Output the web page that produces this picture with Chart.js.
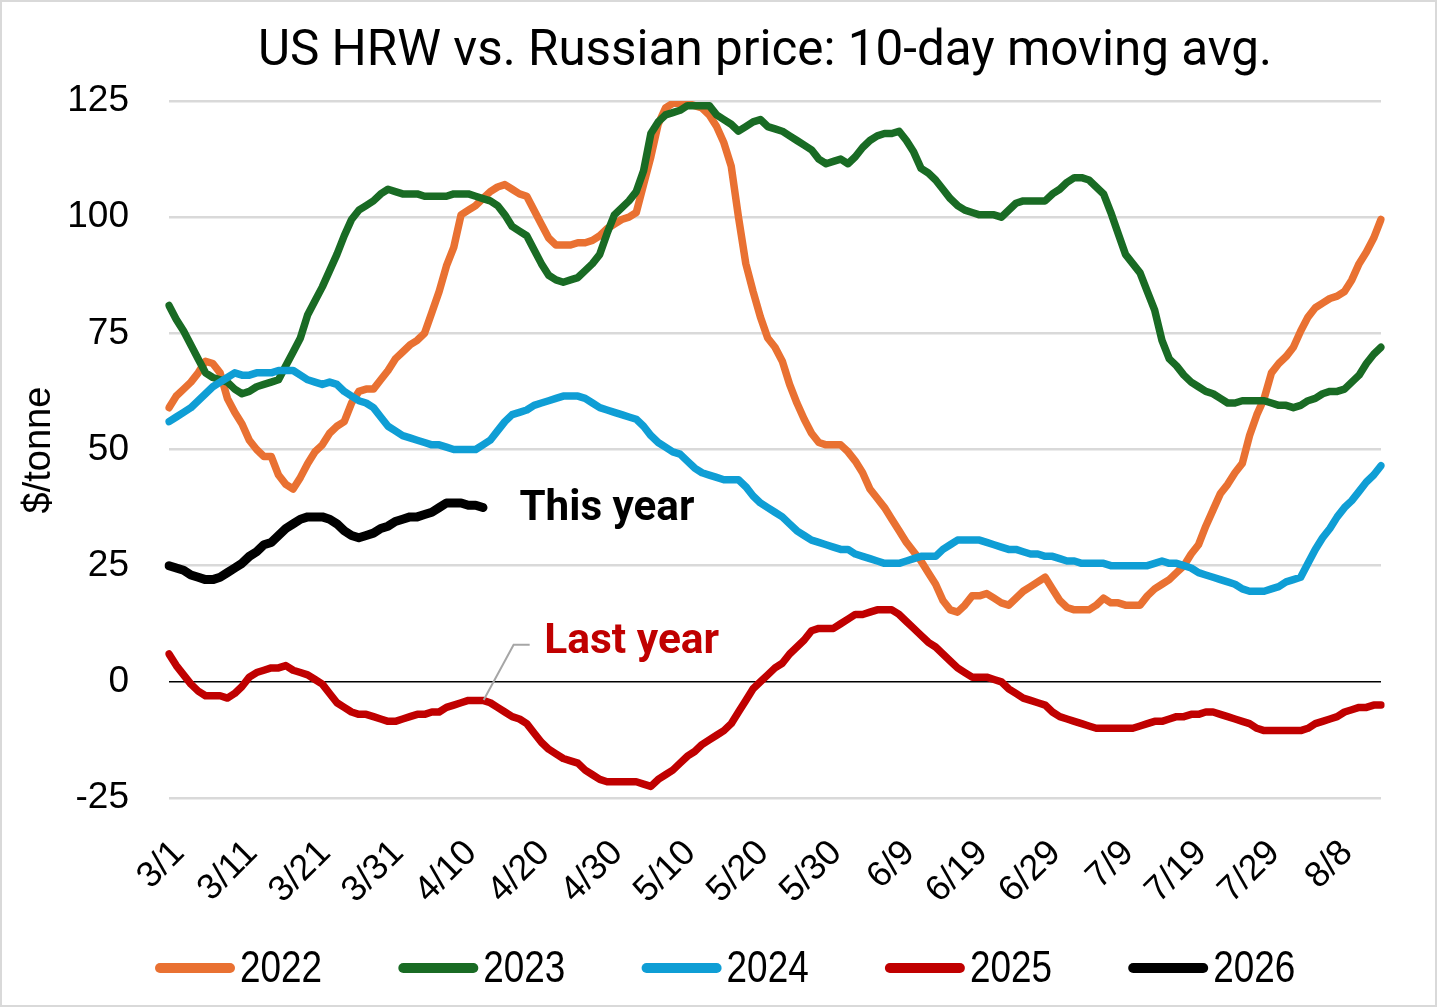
<!DOCTYPE html>
<html>
<head>
<meta charset="utf-8">
<script src="https://cdn.jsdelivr.net/npm/chart.js@4.4.1/dist/chart.umd.min.js"></script>
<style>
html,body{margin:0;padding:0;background:#fff;}
canvas{display:block;}
</style>
</head>
<body>
<canvas id="c" width="1437" height="1007"></canvas>
<script>
// ---------- data ----------
const titleText = 'US HRW vs. Russian price: 10-day moving avg.';
const yAxisTitle = '$/tonne';
const seriesNames = ['2022', '2023', '2024', '2025', '2026'];
const seriesColors = ['#E97132', '#196B24', '#0F9ED5', '#C00000', '#000000'];
const tickLabels = ['3/1','3/11','3/21','3/31','4/10','4/20','4/30','5/10','5/20','5/30','6/9','6/19','6/29','7/9','7/19','7/29','8/8'];
const firstDay = {month: 3, day: 1};
const dayCount = 167;
const yTicks = {min: -25, max: 125, step: 25};

const v2022 = [
  59, 61.5, 63, 64.5, 66.5, 69, 68.5, 66.5, 61, 58,
  55.5, 52, 50, 48.5, 48.5, 44.5, 42.5, 41.5, 44, 47,
  49.5, 51, 53.5, 55, 56, 60, 62.5, 63, 63, 65,
  67, 69.5, 71, 72.5, 73.5, 75, 79.5, 84, 89.5, 93.5,
  100.5, 101.5, 102.5, 104, 105.5, 106.5, 107, 106, 105, 104.5,
  101.5, 98.5, 95.5, 94, 94, 94, 94.5, 94.5, 95, 96,
  97.5, 98.5, 99.5, 100, 101, 107, 113, 120, 123.5, 124.5,
  124.5, 124.5, 124, 123.5, 122, 119.5, 116, 111, 100, 90,
  84, 78.5, 74, 72, 69, 64, 60, 56.5, 53.5, 51.5,
  51, 51, 51, 49.5, 47.5, 45, 41.5, 39.5, 37.5, 35,
  32.5, 30, 28, 26, 23.5, 21, 17.5, 15.5, 15, 16.5,
  18.5, 18.5, 19, 18, 17, 16.5, 18, 19.5, 20.5, 21.5,
  22.5, 20, 17.5, 16, 15.5, 15.5, 15.5, 16.5, 18, 17,
  17, 16.5, 16.5, 16.5, 18.5, 20, 21, 22, 23.5, 25,
  27.5, 29.5, 33.5, 37, 40.5, 42.5, 45, 47, 53, 57.5,
  61, 66.5, 68.5, 70, 72, 75.5, 78.5, 80.5, 81.5, 82.5,
  83, 84, 86.5, 90, 92.5, 95.5, 99.5
];
const v2023 = [
  81, 78, 75.5, 72.5, 69.5, 66.5, 65.5, 65, 64.5, 63,
  62, 62.5, 63.5, 64, 64.5, 65, 68, 71, 74, 79,
  82, 85, 88.5, 92, 96, 99.5, 101.5, 102.5, 103.5, 105,
  106, 105.5, 105, 105, 105, 104.5, 104.5, 104.5, 104.5, 105,
  105, 105, 104.5, 104, 103.5, 102.5, 100.5, 98, 97, 96,
  93, 90, 87.5, 86.5, 86, 86.5, 87, 88.5, 90, 92,
  96.5, 100.5, 102, 103.5, 105.5, 110, 118, 120.5, 122, 122.5,
  123, 124, 124, 124, 124, 122, 121, 120, 118.5, 119.5,
  120.5, 121, 119.5, 119, 118.5, 117.5, 116.5, 115.5, 114.5, 112.5,
  111.5, 112, 112.5, 111.5, 113, 115, 116.5, 117.5, 118, 118,
  118.5, 116.5, 114, 110.5, 109.5, 108, 106, 104, 102.5, 101.5,
  101, 100.5, 100.5, 100.5, 100, 101.5, 103, 103.5, 103.5, 103.5,
  103.5, 105, 106, 107.5, 108.5, 108.5, 108, 106.5, 105, 101,
  96.5, 92, 90, 88, 84, 80, 73.5, 69.5, 68, 66,
  64.5, 63.5, 62.5, 62, 61, 60, 60, 60.5, 60.5, 60.5,
  60.5, 60, 59.5, 59.5, 59, 59.5, 60.5, 61, 62, 62.5,
  62.5, 63, 64.5, 66, 68.5, 70.5, 72
];
const v2024 = [
  56, 57, 58, 59, 60.5, 62, 63.5, 64.5, 65.5, 66.5,
  66, 66, 66.5, 66.5, 66.5, 67, 67, 67, 66, 65,
  64.5, 64, 64.5, 64, 62.5, 61.5, 60.5, 60, 59, 57,
  55, 54, 53, 52.5, 52, 51.5, 51, 51, 50.5, 50,
  50, 50, 50, 51, 52, 54, 56, 57.5, 58, 58.5,
  59.5, 60, 60.5, 61, 61.5, 61.5, 61.5, 61, 60, 59,
  58.5, 58, 57.5, 57, 56.5, 55, 53, 51.5, 50.5, 49.5,
  49, 47.5, 46, 45, 44.5, 44, 43.5, 43.5, 43.5, 42,
  40, 38.5, 37.5, 36.5, 35.5, 34, 32.5, 31.5, 30.5, 30,
  29.5, 29, 28.5, 28.5, 27.5, 27, 26.5, 26, 25.5, 25.5,
  25.5, 26, 26.5, 27, 27, 27, 28.5, 29.5, 30.5, 30.5,
  30.5, 30.5, 30, 29.5, 29, 28.5, 28.5, 28, 27.5, 27.5,
  27, 27, 26.5, 26, 26, 25.5, 25.5, 25.5, 25.5, 25,
  25, 25, 25, 25, 25, 25.5, 26, 25.5, 25.5, 25,
  24.5, 23.5, 23, 22.5, 22, 21.5, 21, 20, 19.5, 19.5,
  19.5, 20, 20.5, 21.5, 22, 22.5, 25.5, 28.5, 31, 33,
  35.5, 37.5, 39, 41, 43, 44.5, 46.5
];
const v2025 = [
  6, 3.5, 1.5, -0.5, -2, -3, -3, -3, -3.5, -2.5,
  -1, 1, 2, 2.5, 3, 3, 3.5, 2.5, 2, 1.5,
  0.5, -0.5, -2.5, -4.5, -5.5, -6.5, -7, -7, -7.5, -8,
  -8.5, -8.5, -8, -7.5, -7, -7, -6.5, -6.5, -5.5, -5,
  -4.5, -4, -4, -4, -4.5, -5.5, -6.5, -7.5, -8, -9,
  -11, -13, -14.5, -15.5, -16.5, -17, -17.5, -19, -20, -21,
  -21.5, -21.5, -21.5, -21.5, -21.5, -22, -22.5, -21, -20, -19,
  -17.5, -16, -15, -13.5, -12.5, -11.5, -10.5, -9, -6.5, -4,
  -1.5, 0, 1.5, 3, 4, 6, 7.5, 9, 11, 11.5,
  11.5, 11.5, 12.5, 13.5, 14.5, 14.5, 15, 15.5, 15.5, 15.5,
  14.5, 13, 11.5, 10, 8.5, 7.5, 6, 4.5, 3, 2,
  1, 1, 1, 0.5, 0, -1.5, -2.5, -3.5, -4, -4.5,
  -5, -6.5, -7.5, -8, -8.5, -9, -9.5, -10, -10, -10,
  -10, -10, -10, -9.5, -9, -8.5, -8.5, -8, -7.5, -7.5,
  -7, -7, -6.5, -6.5, -7, -7.5, -8, -8.5, -9, -10,
  -10.5, -10.5, -10.5, -10.5, -10.5, -10.5, -10, -9, -8.5, -8,
  -7.5, -6.5, -6, -5.5, -5.5, -5, -5
];
const v2026 = [
  25, 24.5, 24, 23, 22.5, 22, 22, 22.5, 23.5, 24.5,
  25.5, 27, 28, 29.5, 30, 31.5, 33, 34, 35, 35.5,
  35.5, 35.5, 35, 34, 32.5, 31.5, 31, 31.5, 32, 33,
  33.5, 34.5, 35, 35.5, 35.5, 36, 36.5, 37.5, 38.5, 38.5,
  38.5, 38, 38, 37.5
];
const seriesValues = [v2022, v2023, v2024, v2025, v2026];

// annotation anchors in data units (day index, value)
const thisYearNote = {text: 'This year', day: 48, value: 37.0, color: '#000000'};
const lastYearNote = {text: 'Last year', day: 51.4, value: 8.4, color: '#C00000'};
const leaderPath = [[43.1, -3.9], [47.2, 8.0], [49.4, 8.0]];

// ---------- build ----------
const categories = [];
for (let i = 0; i < dayCount; i++) {
  const d = new Date(2026, firstDay.month - 1, firstDay.day + i);
  categories.push((d.getMonth() + 1) + '/' + d.getDate());
}

const datasets = seriesNames.map((name, i) => ({
  label: name,
  data: seriesValues[i],
  borderColor: seriesColors[i],
  backgroundColor: seriesColors[i],
  borderWidth: i === 4 ? 9 : 7.5,
  order: seriesNames.length - i,
  pointRadius: 0,
  tension: 0,
  borderCapStyle: 'round',
  borderJoinStyle: 'round',
  fill: false
}));

const decorPlugin = {
  id: 'decor',
  beforeDraw(chart) {
    const ctx = chart.ctx;
    ctx.save();
    ctx.fillStyle = '#ffffff';
    ctx.fillRect(0, 0, chart.width, chart.height);
    ctx.strokeStyle = '#D9D9D9';
    ctx.lineWidth = 2;
    ctx.strokeRect(1, 1, chart.width - 2, chart.height - 2);
    ctx.restore();
  },
  afterDraw(chart) {
    const ctx = chart.ctx;
    const xs = chart.scales.x, ys = chart.scales.y;
    ctx.save();
    // title
    ctx.fillStyle = '#000';
    ctx.font = '400 40px Roboto';
    let w = ctx.measureText(titleText).width;
    const tSize = 40 * 1015 / w;
    ctx.font = '400 ' + tSize.toFixed(1) + 'px Roboto';
    ctx.textAlign = 'center';
    ctx.textBaseline = 'alphabetic';
    ctx.fillText(titleText, 765, 65);

    // y axis title
    ctx.save();
    ctx.translate(50, 450);
    ctx.rotate(-Math.PI / 2);
    ctx.font = '38px "Liberation Sans"';
    ctx.textAlign = 'center';
    ctx.textBaseline = 'alphabetic';
    ctx.fillText(yAxisTitle, 0, 0);
    ctx.restore();

    // leader line
    ctx.strokeStyle = '#A6A6A6';
    ctx.lineWidth = 2;
    ctx.beginPath();
    leaderPath.forEach((p, i) => {
      const px = xs.getPixelForValue(p[0]), py = ys.getPixelForValue(p[1]);
      if (i === 0) ctx.moveTo(px, py); else ctx.lineTo(px, py);
    });
    ctx.stroke();

    // notes
    [thisYearNote, lastYearNote].forEach(n => {
      ctx.font = '700 40px Roboto';
      const nw = ctx.measureText(n.text).width;
      const size = 40 * 175 / nw;
      ctx.font = '700 ' + size.toFixed(1) + 'px Roboto';
      ctx.fillStyle = n.color;
      ctx.textAlign = 'left';
      ctx.textBaseline = 'middle';
      ctx.fillText(n.text, xs.getPixelForValue(n.day), ys.getPixelForValue(n.value));
    });

    // legend
    const legY = 968, start = 155, step = 243.3, lineLen = 80;
    seriesNames.forEach((name, i) => {
      const x0 = start + i * step;
      ctx.strokeStyle = seriesColors[i];
      ctx.lineWidth = 10;
      ctx.lineCap = 'round';
      ctx.beginPath();
      ctx.moveTo(x0 + 5, legY);
      ctx.lineTo(x0 + lineLen - 5, legY);
      ctx.stroke();
      ctx.save();
      ctx.translate(x0 + lineLen + 5, legY);
      ctx.scale(0.82, 1);
      ctx.font = '45px "Liberation Sans"';
      ctx.fillStyle = '#000';
      ctx.textAlign = 'left';
      ctx.textBaseline = 'middle';
      ctx.fillText(name, 0, 2);
      ctx.restore();
    });
    ctx.restore();
  }
};

new Chart(document.getElementById('c'), {
  type: 'line',
  data: {labels: categories, datasets: datasets},
  options: {
    responsive: false,
    animation: false,
    layout: {padding: {top: 101, left: 49, right: 56, bottom: 99}},
    plugins: {legend: {display: false}, title: {display: false}, tooltip: {enabled: false}},
    scales: {
      x: {
        type: 'category',
        offset: false,
        grid: {display: false, drawTicks: false},
        border: {display: false},
        ticks: {
          autoSkip: false,
          maxRotation: 45,
          minRotation: 45,
          padding: 34,
          labelOffset: 10,
          color: '#000',
          font: {family: '"Liberation Sans"', size: 36},
          callback: function(value, index) {
            const lab = categories[index];
            return tickLabels.includes(lab) ? lab : '';
          }
        },
        afterFit: s => { s.height = 110; s.paddingLeft = 0; s.paddingRight = 0; }
      },
      y: {
        min: yTicks.min,
        max: yTicks.max,
        ticks: {stepSize: yTicks.step, padding: 40, color: '#000', font: {family: '"Liberation Sans"', size: 37}},
        grid: {
          drawTicks: false,
          color: c => (c.tick && c.tick.value === 0) ? '#000000' : '#D9D9D9',
          lineWidth: c => (c.tick && c.tick.value === 0) ? 1.5 : 2.5
        },
        border: {display: false},
        afterFit: s => { s.width = 120; }
      }
    }
  },
  plugins: [decorPlugin]
});
</script>
</body>
</html>
